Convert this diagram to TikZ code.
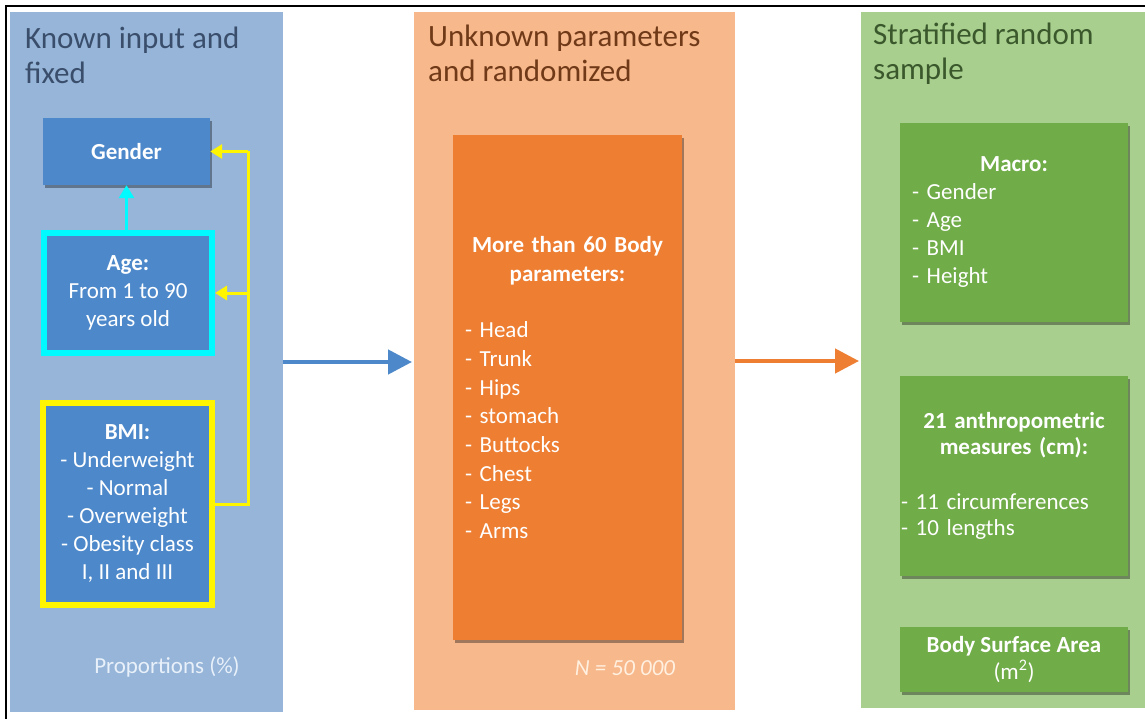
\documentclass[tikz,border=0pt]{standalone}
\usepackage{fontspec}
\setmainfont{Carlito}
\usetikzlibrary{arrows.meta,shadows,calc}

\definecolor{panelblue}{RGB}{150,181,216}
\definecolor{boxblue}{RGB}{76,136,202}
\definecolor{panelorange}{RGB}{247,184,140}
\definecolor{boxorange}{RGB}{237,126,50}
\definecolor{panelgreen}{RGB}{168,207,142}
\definecolor{boxgreen}{RGB}{112,172,72}
\definecolor{titleblue}{RGB}{58,78,108}
\definecolor{titleorange}{RGB}{112,58,24}
\definecolor{titlegreen}{RGB}{58,88,44}
\definecolor{linkcyan}{RGB}{0,250,255}
\definecolor{linkyellow}{RGB}{255,245,0}
\definecolor{paletext}{RGB}{232,240,250}
\definecolor{creamtext}{RGB}{255,240,224}

\newcommand\cellfont{\fontsize{23}{28}\selectfont}
\newcommand\headfont{\fontsize{31}{35}\selectfont}

\begin{document}
\begin{tikzpicture}[x=1pt,y=-1pt,
  panel/.style={inner sep=0pt, outer sep=0pt, anchor=north west},
  heading/.style={inner sep=0pt, anchor=base west, align=left, font=\headfont},
  box/.style={inner sep=0pt, text=white, align=center, font=\cellfont,
    drop shadow={shadow xshift=1.5pt, shadow yshift=-3pt, opacity=0.35, fill=black}},
  link/.style={line width=3pt, -{Triangle[length=12pt,width=14pt]}},
  flow/.style={line width=4.5pt, -{Triangle[length=24pt,width=24pt]}, shorten >=2pt},
]
\useasboundingbox (0,0) rectangle (1145,719);
\fill[white] (0,0) rectangle (1145,719);

% three stage panels
\node[panel, fill=panelblue,   minimum width=273pt, minimum height=700pt] (pblue)   at (10,12)  {};
\node[panel, fill=panelorange, minimum width=321pt, minimum height=698pt] (porange) at (414,12) {};
\node[panel, fill=panelgreen,  minimum width=284pt, minimum height=696pt] (pgreen)  at (861,12) {};

% frame on the top and left
\draw[line width=2pt] (6,719) -- (6,6) -- (1145,6);

% panel headings (anchored on the baseline of their last line)
\node[heading, text=titleblue]   (tblue)   at (25,84)  {Known input and\\fixed};
\node[heading, text=titleorange] (torange) at (428,82) {Unknown parameters\\and randomized};
\node[heading, text=titlegreen]  (tgreen)  at (873,80) {Stratified random\\sample};

% known inputs
\node[box, fill=boxblue, minimum width=167pt, minimum height=67pt] (gender) at (126.5,151.5) {\textbf{Gender}};
\node[box, fill=boxblue, draw=linkcyan, line width=6pt, minimum width=168pt, minimum height=120pt] (age) at (128,293)
  {\textbf{Age:}\\From 1 to 90\\years old};
\node[box, fill=boxblue, draw=linkyellow, line width=6pt, minimum width=169pt, minimum height=202pt] (bmi) at (127.5,504)
  {\textbf{BMI:}\\- Underweight\\- Normal\\- Overweight\\- Obesity class\\I, II and III};
\node[font=\cellfont, text=paletext] (prop) at (167,667) {Proportions (\%)};

% links between the inputs
\coordinate (bus) at (248,0);
\draw[line width=3pt, draw=linkcyan, -{Triangle[length=13pt,width=15pt]}] (age.north -| gender.south) -- (gender.south);
\draw[line width=3pt, draw=linkyellow] (bmi.east) -- (bmi.east -| bus) -- (gender.east -| bus);
\draw[link, draw=linkyellow] (gender.east -| bus) -- (gender.east);
\draw[link, draw=linkyellow] (age.east -| bus) -- (age.east);

% randomized parameters
\node[box, fill=boxorange, minimum width=229pt, minimum height=505pt, text width=205pt, align=left,
  font=\fontsize{23}{28.7}\selectfont] (params) at (567.5,387.5)
  {\makebox[\linewidth]{\bfseries More than 60 Body}\\
   \makebox[\linewidth]{\bfseries parameters:}\\[28pt]
   - Head\\- Trunk\\- Hips\\- stomach\\- Buttocks\\- Chest\\- Legs\\- Arms};
\node[font=\cellfont, text=creamtext] (nsize) at (625,668) {\itshape N = 50 000};

% sample outputs
\node[box, fill=boxgreen, minimum width=228pt, minimum height=199pt, text width=204pt, align=left] (macro) at (1014,222.5)
  {\makebox[\linewidth]{\bfseries Macro:}\\- Gender\\- Age\\- BMI\\- Height};
\node[box, fill=boxgreen, minimum width=228pt, minimum height=200pt, text width=226pt, align=left,
  font=\fontsize{23}{26.5}\selectfont] (anthro) at (1014,476)
  {\makebox[\linewidth]{\bfseries 21 anthropometric}\\
   \makebox[\linewidth]{\bfseries measures (cm):}\\[28pt]
   - 11 circumferences\\- 10 lengths};
\node[box, fill=boxgreen, minimum width=228pt, minimum height=65pt, font=\fontsize{23}{27}\selectfont] (bsa) at (1014,659.5)
  {\textbf{Body Surface Area}\\(m\textsuperscript{2})};

% flow between the stages
\draw[flow, draw=boxblue]   (pblue.east)   -- (pblue.east -| porange.west);
\draw[flow, draw=boxorange] (porange.east) -- (porange.east -| pgreen.west);
\end{tikzpicture}
\end{document}
